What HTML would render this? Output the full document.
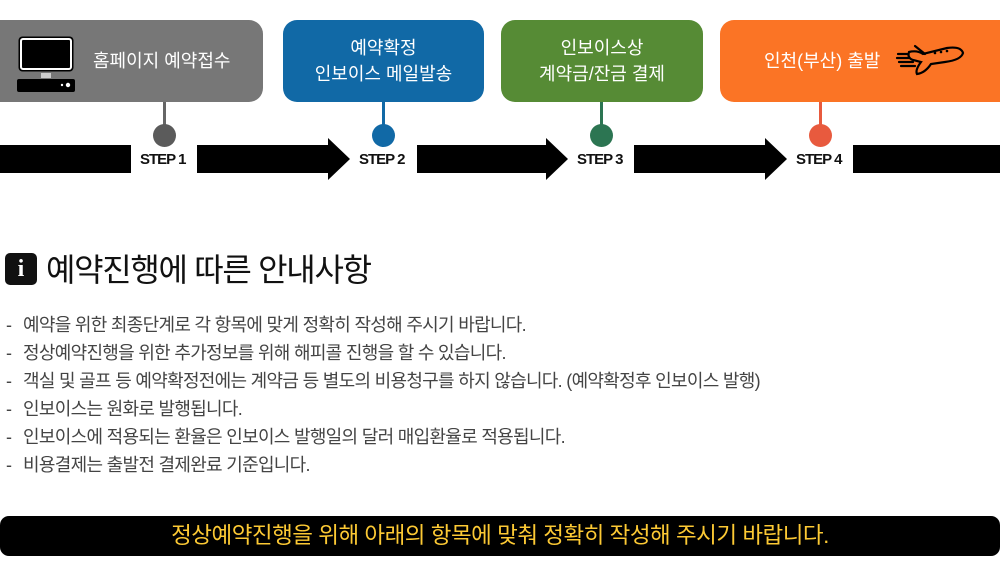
<!DOCTYPE html>
<html><head><meta charset="utf-8"><style>
*{margin:0;padding:0;box-sizing:border-box}
body{width:1000px;height:562px;background:#fff;position:relative;overflow:hidden;font-family:"Liberation Sans","Noto Sans CJK KR",sans-serif}
.box{position:absolute;top:20px;height:82px;border-radius:14px;color:#fff;font-size:18px;line-height:26px;display:flex;align-items:center;justify-content:center;text-align:center}
.stem{position:absolute;top:102px;width:3px;height:24px}
.dot{position:absolute;top:124px;width:23px;height:23px;border-radius:50%}
.bar{position:absolute;top:145px;height:28px;background:#000}
.head{position:absolute;top:138px;width:0;height:0;border-top:21px solid transparent;border-bottom:21px solid transparent;border-left:22px solid #000}
.step{position:absolute;top:151px;font-size:15px;font-weight:bold;letter-spacing:-1px;color:#111}
.li{position:absolute;left:6px;font-size:18px;line-height:24px;color:#444;letter-spacing:-0.7px;white-space:nowrap}
.li span{display:inline-block;width:17px}
</style></head><body>
<div class="box" style="left:-15px;width:278px;background:#777;justify-content:flex-start;padding-left:108px">홈페이지 예약접수</div>
<svg style="position:absolute;left:17px;top:35px" width="58" height="57"><rect x="1.5" y="1.5" width="55" height="35" rx="4" fill="#000"/><rect x="4" y="4" width="50" height="30" rx="2" fill="none" stroke="#fff" stroke-width="2"/><rect x="24" y="38" width="10" height="5" fill="#ccc"/><rect x="0" y="44" width="58" height="13" rx="2" fill="#000"/><circle cx="51" cy="50" r="2.2" fill="#fff"/><circle cx="45" cy="50" r="1.2" fill="#fff"/></svg>
<div class="box" style="left:283px;width:201px;background:#1169a6">예약확정<br>인보이스 메일발송</div>
<div class="box" style="left:501px;width:202px;background:#568b35">인보이스상<br>계약금/잔금 결제</div>
<div class="box" style="left:720px;width:300px;background:#fb7425;justify-content:flex-start;padding-left:44px">인천(부산) 출발</div>
<svg style="position:absolute;left:895px;top:40px" width="72" height="38" viewBox="0 0 72 38"><g fill="none" stroke="#000" stroke-width="2.2" stroke-linecap="round"><path d="M14 12 Q22 10 28 14 L52 8 Q66 6 68 13 Q66 20 50 22 L36 24 Q30 33 22 34 Q20 30 26 22 L18 20 Q12 18 14 12Z"/><path d="M20 6 L30 14"/><path d="M2 18 H14 M4 22 H18 M6 26 H20 M3 14 H12"/></g><g fill="#000"><circle cx="40" cy="13" r="1.3"/><circle cx="46" cy="12" r="1.3"/><circle cx="52" cy="11" r="1.3"/></g></svg>
<div class="stem" style="left:163px;background:#666"></div><div class="dot" style="left:153px;background:#5b5b5b"></div>
<div class="stem" style="left:382px;background:#1169a6"></div><div class="dot" style="left:372px;background:#1169a6"></div>
<div class="stem" style="left:600px;background:#2c7552"></div><div class="dot" style="left:590px;background:#2c7552"></div>
<div class="stem" style="left:819px;background:#e85a3e"></div><div class="dot" style="left:809px;background:#e85a3e"></div>
<div class="bar" style="left:0;width:131px"></div>
<div class="bar" style="left:197px;width:132px"></div><div class="head" style="left:328px"></div>
<div class="bar" style="left:417px;width:130px"></div><div class="head" style="left:546px"></div>
<div class="bar" style="left:634px;width:132px"></div><div class="head" style="left:765px"></div>
<div class="bar" style="left:853px;width:147px"></div>
<div class="step" style="left:140px">STEP 1</div>
<div class="step" style="left:359px">STEP 2</div>
<div class="step" style="left:577px">STEP 3</div>
<div class="step" style="left:796px">STEP 4</div>
<div style="position:absolute;left:5px;top:253px;width:32px;height:32px;background:#111;border-radius:5px;color:#fff;font:bold 24px 'Liberation Serif',serif;text-align:center;line-height:32px">i</div>
<div style="position:absolute;left:46px;top:249px;font-size:32px;line-height:42px;color:#111;letter-spacing:-1.3px;white-space:nowrap">예약진행에 따른 안내사항</div>
<div class="li" style="top:313px"><span>-</span>예약을 위한 최종단계로 각 항목에 맞게 정확히 작성해 주시기 바랍니다.</div>
<div class="li" style="top:341px"><span>-</span>정상예약진행을 위한 추가정보를 위해 해피콜 진행을 할 수 있습니다.</div>
<div class="li" style="top:369px"><span>-</span>객실 및 골프 등 예약확정전에는 계약금 등 별도의 비용청구를 하지 않습니다. (예약확정후 인보이스 발행)</div>
<div class="li" style="top:397px"><span>-</span>인보이스는 원화로 발행됩니다.</div>
<div class="li" style="top:425px"><span>-</span>인보이스에 적용되는 환율은 인보이스 발행일의 달러 매입환율로 적용됩니다.</div>
<div class="li" style="top:453px"><span>-</span>비용결제는 출발전 결제완료 기준입니다.</div>
<div style="position:absolute;left:0;top:516px;width:1000px;height:40px;background:#000;border-radius:9px;color:#fcc934;font-size:22.5px;line-height:40px;text-align:center;letter-spacing:-0.5px;white-space:nowrap">정상예약진행을 위해 아래의 항목에 맞춰 정확히 작성해 주시기 바랍니다.</div>
</body></html>
